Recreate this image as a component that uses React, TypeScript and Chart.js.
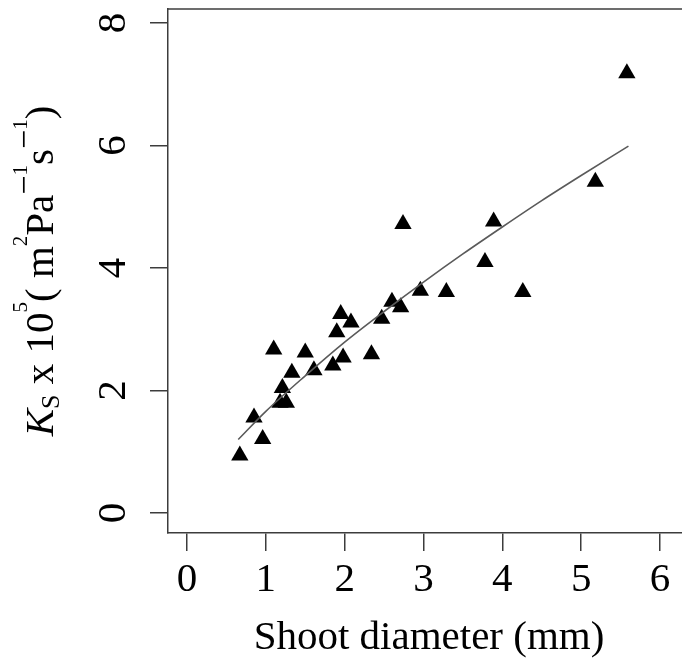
import React, { useEffect, useRef } from "react";
import { Chart, registerables } from "chart.js";

Chart.register(...registerables);

// Observed points: shoot diameter (mm) vs Ks x 10^5
const diameterMm = [0.67, 0.85, 0.96, 1.10, 1.18, 1.26, 1.21, 1.33, 1.50, 1.61, 1.85, 1.90, 1.95, 1.98, 2.08, 2.34, 2.47, 2.60, 2.71, 2.74, 2.96, 3.29, 3.78, 3.89, 4.26, 5.18, 5.58];
const ksValues = [0.94, 1.56, 1.21, 2.67, 1.80, 1.80, 2.04, 2.29, 2.62, 2.33, 2.41, 2.95, 3.25, 2.54, 3.11, 2.59, 3.17, 3.45, 3.36, 4.72, 3.63, 3.61, 4.10, 4.76, 3.61, 5.41, 7.18];

// Fitted curve
const fitX = [0.65, 1.0, 1.5, 2.0, 2.5, 3.0, 3.5, 4.0, 4.5, 5.0, 5.6];
const fitY = [1.2, 1.66, 2.24, 2.79, 3.29, 3.77, 4.23, 4.67, 5.10, 5.51, 5.99];

const xTicks = [0, 1, 2, 3, 4, 5, 6];
const yTicks = [0, 2, 4, 6, 8];

const xTitle = "Shoot diameter (mm)";

const FONT = "'Liberation Serif', 'Times New Roman', serif";
const AXIS_COLOR = "#3c3c3c";
const CANVAS_W = 690; // plot box runs past the right edge of the 682px view
const CANVAS_H = 665;

type Seg = { text: string; size: number; italic?: boolean; shift: number };
const yTitleSegs: Seg[] = [
  { text: "K", size: 41, italic: true, shift: 0 },
  { text: "S", size: 26, shift: 6 },
  { text: " x 10", size: 41, shift: 0 },
  { text: "5", size: 21, shift: -26 },
  { text: "( m", size: 41, shift: 0 },
  { text: "2", size: 21, shift: -26 },
  { text: "Pa", size: 41, shift: 0 },
  { text: "−", size: 34, shift: -18 },
  { text: "1", size: 21, shift: -26 },
  { text: "s", size: 41, shift: 0 },
  { text: "−", size: 34, shift: -18 },
  { text: "1", size: 21, shift: -26 },
  { text: ")", size: 41, shift: 0 },
];

const framePlugin = {
  id: "frameAndTitle",
  afterDraw(chart: any) {
    const { ctx, chartArea } = chart;
    ctx.save();
    ctx.beginPath();
    ctx.strokeStyle = AXIS_COLOR;
    ctx.lineWidth = 1.5;
    ctx.moveTo(chartArea.left, chartArea.top);
    ctx.lineTo(chartArea.right, chartArea.top);
    ctx.stroke();
    ctx.beginPath();
    ctx.restore();

    // rotated y title with sub/superscripts
    ctx.save();
    const fontFor = (s: Seg) => `${s.italic ? "italic " : ""}${s.size}px ${FONT}`;
    let total = 0;
    for (const s of yTitleSegs) {
      ctx.font = fontFor(s);
      total += ctx.measureText(s.text).width;
    }
    const baselineX = 53;
    const centerY = (chartArea.top + chartArea.bottom) / 2;
    ctx.translate(baselineX, centerY);
    ctx.rotate(-Math.PI / 2);
    ctx.fillStyle = "#000";
    ctx.textBaseline = "alphabetic";
    ctx.textAlign = "left";
    let u = -total / 2;
    for (const s of yTitleSegs) {
      ctx.font = fontFor(s);
      ctx.fillText(s.text, u, s.shift);
      u += ctx.measureText(s.text).width;
    }
    ctx.restore();
  },
};

export default function App() {
  const ref = useRef<HTMLCanvasElement | null>(null);

  useEffect(() => {
    document.body.style.margin = "0";
    const canvas = ref.current;
    if (!canvas) return;
    const scatterData = diameterMm.map((x, i) => ({ x, y: ksValues[i] }));
    const fitData = fitX.map((x, i) => ({ x, y: fitY[i] }));

    const chart = new Chart(canvas, {
      type: "scatter",
      data: {
        datasets: [
          {
            type: "line",
            label: "fit",
            data: fitData,
            borderColor: "#5a5a5a",
            borderWidth: 1.6,
            pointRadius: 0,
            tension: 0.4,
            cubicInterpolationMode: "monotone",
            fill: false,
          } as any,
          {
            label: "Ks",
            data: scatterData,
            pointStyle: "triangle",
            pointRadius: 10,
            pointBackgroundColor: "#000",
            pointBorderWidth: 0,
          },
        ],
      },
      options: {
        responsive: false,
        animation: false,
        devicePixelRatio: 1,
        layout: { autoPadding: false, padding: { top: 9, right: 0, left: 0, bottom: 0 } },
        plugins: {
          legend: { display: false },
          tooltip: { enabled: false },
        },
        scales: {
          x: {
            type: "linear",
            min: -0.241,
            max: 6.381,
            afterBuildTicks: (s: any) => {
              s.ticks = xTicks.map((v) => ({ value: v }));
            },
            afterFit: (s: any) => {
              s.height = 132;
              s.paddingLeft = 0;
              s.paddingRight = 0;
            },
            grid: { drawOnChartArea: false, tickLength: 18, color: AXIS_COLOR, lineWidth: 1.5 },
            border: { display: true, color: AXIS_COLOR, width: 1.5 },
            ticks: {
              color: "#000",
              font: { family: FONT, size: 41 },
              padding: 5,
              maxRotation: 0,
              autoSkip: false,
            },
            title: {
              display: true,
              text: xTitle,
              color: "#000",
              font: { family: FONT, size: 41 },
              padding: { top: 0, bottom: 2 },
            },
          },
          y: {
            type: "linear",
            min: -0.3265,
            max: 8.2286,
            afterBuildTicks: (s: any) => {
              s.ticks = yTicks.map((v) => ({ value: v }));
            },
            afterFit: (s: any) => {
              s.width = 168;
              s.paddingTop = 0;
              s.paddingBottom = 0;
            },
            grid: { drawOnChartArea: false, tickLength: 18, color: AXIS_COLOR, lineWidth: 1.5 },
            border: { display: true, color: AXIS_COLOR, width: 1.5 },
            ticks: {
              color: "#000",
              font: { family: FONT, size: 41 },
              padding: 26,
              minRotation: 90,
              maxRotation: 90,
              crossAlign: "center",
              autoSkip: false,
            },
          },
        },
      },
      plugins: [framePlugin],
    });
    return () => chart.destroy();
  }, []);

  return (
    <div style={{ width: 682, height: 665, overflow: "hidden", background: "#fff" }}>
      <canvas
        ref={ref}
        width={CANVAS_W}
        height={CANVAS_H}
        style={{ display: "block", width: CANVAS_W, height: CANVAS_H }}
      />
    </div>
  );
}
